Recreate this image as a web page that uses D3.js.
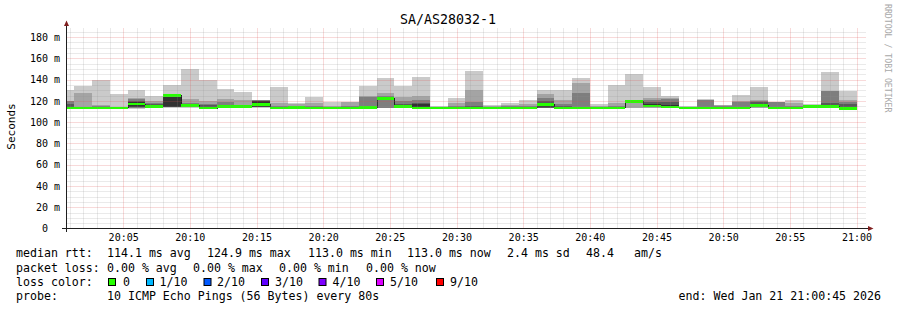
<!DOCTYPE html>
<html>
<head>
<meta charset="utf-8">
<script src="https://cdn.jsdelivr.net/npm/d3@7"></script>
<style>
  body { margin: 0; background: #fff; }
  text { font-family: "DejaVu Sans Mono", monospace; }
</style>
</head>
<body>
<svg width="897" height="310"></svg>
<script>
// ---- data ----
const title = "SA/AS28032-1";
const firstBin = new Date(2026, 0, 21, 20, 0, 0); // first 80s step
const stepSec = 80;

// median rtt per step (ms)
const medians = [
  113.3, 113.4, 113.4, 113.3, 117.0, 114.8, 124.9, 115.4, 113.1, 114.5,
  114.5, 116.8, 113.1, 113.8, 113.3, 113.3, 113.1, 113.8, 122.0, 114.6,
  113.3, 113.3, 113.3, 113.3, 113.3, 113.3, 113.3, 116.6, 113.3, 113.3,
  113.3, 113.3, 119.3, 115.0, 114.2, 113.3, 113.3, 113.3, 113.3, 115.4,
  113.3, 113.3, 114.6, 114.6, 113.0
];

// the 10 sorted pings per step (ms)
const pings = [
  [112.8, 113.0, 113.2, 113.5, 113.6, 114.0, 117.5, 119.5, 120.0, 130.0],
  [113.0, 113.0, 113.2, 113.3, 113.4, 113.5, 114.0, 114.5, 127.3, 133.6],
  [113.0, 113.2, 113.3, 113.4, 113.5, 113.8, 114.5, 115.5, 116.0, 140.0],
  [113.0, 113.1, 113.2, 113.3, 113.4, 113.5, 113.7, 114.0, 114.5, 126.0],
  [112.5, 113.0, 113.5, 114.0, 114.5, 119.0, 120.0, 121.5, 122.5, 130.0],
  [113.2, 113.5, 114.0, 114.2, 114.5, 116.0, 117.0, 118.0, 120.0, 124.6],
  [113.5, 114.0, 114.2, 114.3, 114.5, 124.5, 125.0, 125.5, 126.0, 134.6],
  [113.5, 114.0, 114.2, 114.5, 115.0, 116.0, 117.3, 118.0, 121.4, 149.8],
  [112.8, 112.9, 113.0, 113.1, 113.2, 114.0, 116.0, 117.3, 119.5, 140.0],
  [113.5, 113.8, 114.0, 114.2, 114.4, 114.8, 116.0, 119.0, 121.4, 131.4],
  [113.5, 113.8, 114.0, 114.2, 114.4, 114.8, 115.0, 115.7, 120.4, 128.2],
  [113.5, 113.8, 114.1, 114.3, 114.5, 119.5, 120.2, 120.5, 120.8, 121.0],
  [112.8, 112.9, 113.0, 113.1, 113.2, 113.5, 114.0, 115.0, 117.9, 133.0],
  [113.3, 113.5, 113.6, 113.7, 113.8, 114.0, 114.5, 115.5, 117.5, 118.0],
  [112.8, 113.0, 113.1, 113.2, 113.3, 113.5, 114.0, 115.0, 118.0, 123.3],
  [112.8, 113.0, 113.1, 113.2, 113.3, 113.5, 113.8, 114.2, 115.0, 119.0],
  [112.8, 113.0, 113.1, 113.2, 113.3, 113.6, 114.0, 115.0, 118.8, 119.3],
  [113.0, 113.2, 113.4, 113.6, 113.8, 114.2, 115.0, 123.5, 124.5, 134.0],
  [113.0, 113.2, 113.5, 120.4, 121.0, 123.0, 124.0, 125.0, 127.0, 141.3],
  [113.2, 113.5, 113.8, 114.0, 114.3, 115.0, 117.0, 120.0, 123.5, 133.9],
  [112.8, 113.0, 113.1, 113.2, 113.3, 117.5, 118.0, 120.5, 124.5, 142.0],
  [112.8, 113.0, 113.1, 113.2, 113.3, 113.5, 113.8, 114.0, 114.5, 115.5],
  [112.8, 113.0, 113.1, 113.2, 113.3, 113.6, 114.0, 115.0, 118.0, 122.5],
  [112.8, 113.0, 113.1, 113.2, 113.3, 113.8, 115.0, 118.8, 130.2, 147.8],
  [112.8, 113.0, 113.1, 113.2, 113.3, 113.5, 113.8, 114.2, 114.8, 115.7],
  [112.8, 113.0, 113.1, 113.2, 113.3, 113.5, 114.0, 114.8, 116.0, 118.0],
  [112.8, 113.0, 113.1, 113.2, 113.3, 113.6, 114.2, 115.5, 117.5, 120.4],
  [113.0, 113.2, 113.4, 113.5, 114.0, 118.0, 120.0, 122.6, 126.3, 130.3],
  [112.8, 113.0, 113.1, 113.2, 113.3, 114.0, 115.5, 117.0, 120.4, 130.5],
  [112.8, 113.0, 113.1, 113.2, 113.3, 113.8, 114.5, 127.3, 136.5, 141.2],
  [112.8, 113.0, 113.1, 113.2, 113.3, 113.5, 114.0, 114.5, 115.5, 117.3],
  [112.8, 113.0, 113.1, 113.2, 113.3, 113.6, 114.2, 115.5, 118.0, 135.2],
  [113.2, 113.5, 118.0, 118.3, 118.8, 119.8, 120.2, 120.5, 121.0, 145.2],
  [113.2, 113.5, 113.8, 114.0, 114.3, 117.0, 119.0, 120.5, 122.5, 133.0],
  [113.0, 113.3, 113.5, 113.6, 113.8, 116.5, 118.5, 122.0, 123.0, 124.8],
  [112.8, 113.0, 113.1, 113.2, 113.3, 113.5, 113.8, 114.0, 114.4, 114.8],
  [112.8, 113.0, 113.1, 113.2, 113.3, 113.8, 114.5, 120.5, 121.0, 121.3],
  [112.8, 113.0, 113.1, 113.2, 113.3, 113.5, 114.0, 115.0, 115.8, 116.4],
  [112.8, 113.0, 113.1, 113.2, 113.3, 113.7, 114.5, 118.8, 119.5, 125.4],
  [113.2, 113.5, 113.8, 114.0, 114.3, 116.5, 118.5, 120.2, 121.0, 133.0],
  [112.8, 113.0, 113.1, 113.2, 113.3, 113.6, 114.2, 118.5, 118.8, 119.0],
  [112.8, 113.0, 113.1, 113.2, 113.3, 113.6, 114.2, 115.5, 118.0, 120.4],
  [113.3, 113.6, 113.8, 114.0, 114.2, 114.6, 115.0, 115.6, 116.4, 117.3],
  [113.0, 113.2, 113.4, 113.6, 113.8, 115.5, 118.0, 129.0, 129.5, 147.0],
  [112.8, 112.9, 113.0, 113.1, 113.2, 113.5, 117.3, 118.8, 120.4, 129.5]
];

const yLabelTicks = [0, 20, 40, 60, 80, 100, 120, 140, 160, 180];

const statsRtt = ["median rtt:", "114.1 ms avg", "124.9 ms max", "113.0 ms min",
                  "113.0 ms now", "2.4 ms sd", "48.4", "am/s"];
const statsLoss = ["packet loss:", "0.00 % avg", "0.00 % max", "0.00 % min", "0.00 % now"];
const lossLabels = ["0", "1/10", "2/10", "3/10", "4/10", "5/10", "9/10"];
const lossColors = ["#26ff00", "#00b8ff", "#0059ff", "#5e00ff", "#7e00ff", "#dd00ff", "#ff0000"];
const probeText = "10 ICMP Echo Pings (56 Bytes) every 80s";
const endText = "end: Wed Jan 21 21:00:45 2026";

// ---- layout ----
const svg = d3.select("svg");
const plotL = 66.5, plotR = 866.5, plotT = 28.5, plotB = 228.5;
const smokeGrays = ["#cacaca", "#a4a4a4", "#7e7e7e", "#585858", "#323232"];
const medHalf = 1.2; // half height of median band, in ms

svg.append("rect").attr("width", 897).attr("height", 310).attr("fill", "#fff");

let x = d3.scaleTime()
    .domain([new Date(2026, 0, 21, 20, 0, 45), new Date(2026, 0, 21, 21, 0, 45)])
    .range([plotL, plotR]);
let y = d3.scaleLinear().domain([0, 188]).range([plotB, plotT]);

svg.append("clipPath").attr("id", "plot")
  .append("rect").attr("x", 67).attr("y", plotT).attr("width", plotR - 67).attr("height", plotB - plotT);

let bins = medians.map((m, i) => ({
  t0: d3.timeSecond.offset(firstBin, i * stepSec),
  t1: d3.timeSecond.offset(firstBin, (i + 1) * stepSec),
  med: m,
  p: pings[i]
}));

const px = t => Math.round(x(t));

// ---- smoke ----
let g = svg.append("g").attr("clip-path", "url(#plot)").attr("shape-rendering", "crispEdges");
smokeGrays.forEach((col, b) => {
  g.selectAll(".smoke" + b)
    .data(bins)
    .enter()
    .append("rect")
    .attr("x", d => px(d.t0))
    .attr("width", d => px(d.t1) - px(d.t0))
    .attr("y", d => y(d.p[9 - b]))
    .attr("height", d => Math.max(0, y(d.p[b]) - y(d.p[9 - b])))
    .attr("fill", col);
});

// dark step trace of the median
let stepPts = bins.map(d => [px(d.t0), y(d.med)]);
stepPts.push([px(bins[bins.length - 1].t1), y(bins[bins.length - 1].med)]);
g.append("path")
  .attr("d", d3.line().curve(d3.curveStepAfter)(stepPts))
  .attr("fill", "none")
  .attr("stroke", "#202020")
  .attr("stroke-width", 1);

// median band, coloured by loss (all 0 loss here)
g.selectAll(".med")
  .data(bins)
  .enter()
  .append("rect")
  .attr("x", d => px(d.t0))
  .attr("width", d => px(d.t1) - px(d.t0))
  .attr("y", d => y(d.med + medHalf))
  .attr("height", d => y(d.med - medHalf) - y(d.med + medHalf))
  .attr("fill", lossColors[0]);

// ---- grid ----
let grid = svg.append("g");
const yMinor = d3.range(5, 188, 5).filter(v => v % 20 !== 0);
const yMajor = d3.range(20, 188, 20);
const xMinor = x.ticks(d3.timeMinute.every(1)).filter(t => t.getMinutes() % 5 !== 0);
const xMajor = x.ticks(d3.timeMinute.every(5));
const ry = v => Math.round(y(v)) + 0.5;
const rx = t => Math.round(x(t)) + 0.5;
const minorCol = "rgba(143,143,143,0.38)", majorCol = "rgba(222,79,79,0.42)";

grid.selectAll(".ymin").data(yMinor).enter().append("line")
  .attr("x1", plotL).attr("x2", plotR).attr("y1", ry).attr("y2", ry)
  .attr("stroke", minorCol).attr("stroke-dasharray", "1,1");
grid.selectAll(".xmin").data(xMinor).enter().append("line")
  .attr("x1", rx).attr("x2", rx).attr("y1", plotT).attr("y2", plotB)
  .attr("stroke", minorCol).attr("stroke-dasharray", "1,1");
grid.selectAll(".ymaj").data(yMajor).enter().append("line")
  .attr("x1", plotL).attr("x2", plotR).attr("y1", ry).attr("y2", ry)
  .attr("stroke", majorCol).attr("stroke-dasharray", "1,1");
grid.selectAll(".xmaj").data(xMajor).enter().append("line")
  .attr("x1", rx).attr("x2", rx).attr("y1", plotT).attr("y2", plotB)
  .attr("stroke", majorCol).attr("stroke-dasharray", "1,1");

// ---- axes ----
svg.append("line").attr("x1", 62).attr("x2", 869).attr("y1", plotB).attr("y2", plotB)
  .attr("stroke", "#1f1f1f");
svg.append("line").attr("x1", plotL).attr("x2", plotL).attr("y1", 232).attr("y2", 24)
  .attr("stroke", "#1f1f1f");
svg.append("path").attr("d", "M868,226 L873.5,228.5 L868,231 Z").attr("fill", "#801f1f");
svg.append("path").attr("d", "M64,26 L66.5,20.5 L69,26 Z").attr("fill", "#801f1f");

let yAxis = svg.append("g")
  .attr("transform", `translate(${plotL},0)`)
  .call(d3.axisLeft(y).tickValues(yLabelTicks).tickSize(0).tickPadding(6.5)
    .tickFormat(d => d === 0 ? "0\u00a0\u00a0" : d + " m"));
yAxis.select(".domain").remove();
yAxis.selectAll("text").attr("font-family", "DejaVu Sans Mono").attr("font-size", "10px").attr("fill", "#000");

let xAxis = svg.append("g")
  .attr("transform", `translate(0,${plotB})`)
  .call(d3.axisBottom(x).ticks(d3.timeMinute.every(5)).tickSize(0).tickPadding(5)
    .tickFormat(d3.timeFormat("%H:%M")));
xAxis.select(".domain").remove();
xAxis.selectAll("text").attr("font-family", "DejaVu Sans Mono").attr("font-size", "10px").attr("fill", "#000");

// ---- titles ----
svg.append("text").attr("x", 448).attr("y", 24).attr("text-anchor", "middle")
  .style("font-size", "13.3px").text(title);
svg.append("text").attr("transform", "translate(14.5,126.5) rotate(-90)")
  .attr("text-anchor", "middle").style("font-size", "11px").text("Seconds");
svg.append("text").attr("transform", "translate(885,4) rotate(90)")
  .style("font-size", "8.2px").attr("fill", "#a8a8a8").text("RRDTOOL / TOBI OETIKER");

// ---- legend ----
const lf = "11.6px";
const rttX = [16, 107, 207, 308, 407, 507, 586, 634];
statsRtt.forEach((s, i) => {
  svg.append("text").attr("x", rttX[i]).attr("y", 257.3).style("font-size", lf).text(s);
});
const lossX = [16, 107, 193, 279, 366];
statsLoss.forEach((s, i) => {
  svg.append("text").attr("x", lossX[i]).attr("y", 272.3).style("font-size", lf).text(s);
});
svg.append("text").attr("x", 16).attr("y", 286).style("font-size", lf).text("loss color:");
const boxX = [108, 146, 203.5, 261, 318.5, 376, 436];
const boxLabelX = [123, 159.5, 217, 275, 332.5, 390, 450];
lossLabels.forEach((s, i) => {
  svg.append("rect").attr("x", boxX[i] + 0.5).attr("y", 278.5).attr("width", 7).attr("height", 7)
    .attr("fill", lossColors[i]).attr("stroke", "#000").attr("stroke-width", 1);
  svg.append("text").attr("x", boxLabelX[i]).attr("y", 286).style("font-size", lf).text(s);
});
svg.append("text").attr("x", 16).attr("y", 300).style("font-size", lf).text("probe:");
svg.append("text").attr("x", 107).attr("y", 300).style("font-size", lf).text(probeText);
svg.append("text").attr("x", 881).attr("y", 300).attr("text-anchor", "end").style("font-size", lf).text(endText);
</script>
</body>
</html>
